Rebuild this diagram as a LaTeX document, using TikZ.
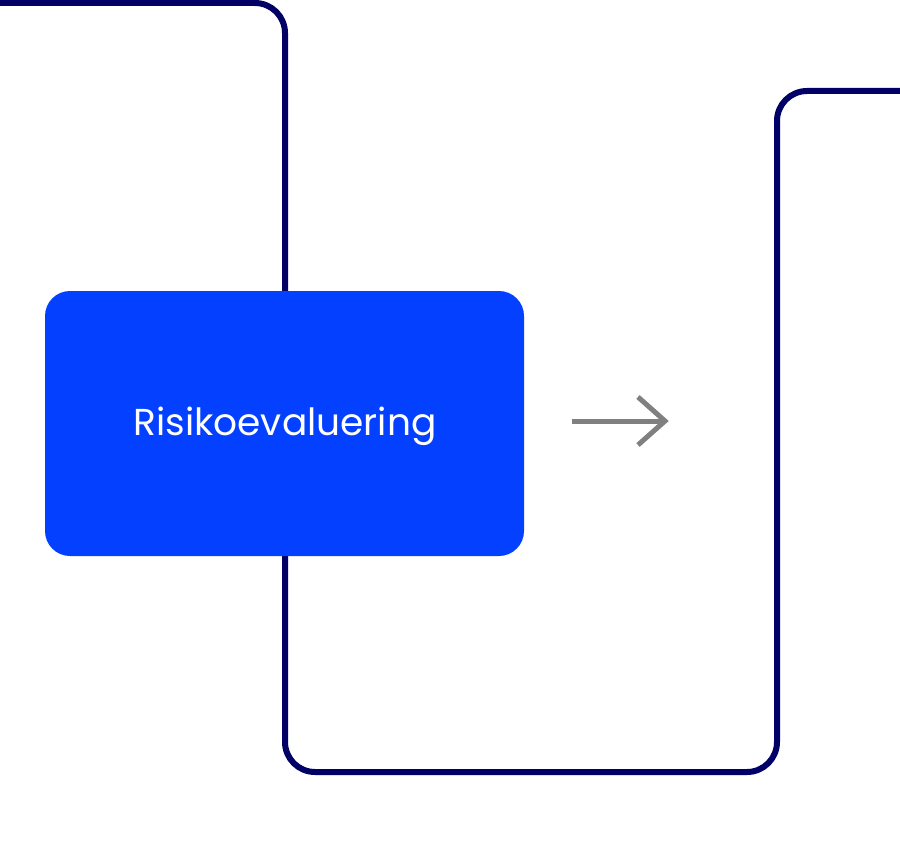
\documentclass[tikz,border=0pt]{standalone}
\usepackage{fontspec}
\setmainfont{Poppins}
\definecolor{navy}{HTML}{000066}
\definecolor{boxblue}{HTML}{0340FF}
\definecolor{arrgray}{HTML}{808080}
\begin{document}
\begin{tikzpicture}[x=1pt,y=-1pt,
  frameline/.style={draw=navy,line width=6pt,rounded corners=30pt},
  bluebox/.style={fill=boxblue,rounded corners=25pt},
  arrowline/.style={draw=arrgray,line width=5pt}]
\useasboundingbox (0,0) rectangle (900,864);
\draw[frameline] (-10,3) -- (285,3) -- (285,772) -- (777,772) -- (777,91) -- (910,91);
\fill[bluebox] (45,291) rectangle (524,556);
\node[anchor=base,text=white,inner sep=0pt,font=\fontsize{37.5}{44}\selectfont] (lbl) at (285,435) {Risikoevaluering};
\coordinate (a0) at (572,421);
\coordinate (a1) at (665,421);
\coordinate (h1) at (638,397);
\coordinate (h2) at (638,445);
\draw[arrowline] (a0) -- (a1);
\draw[arrowline,line join=miter] (h1) -- (a1) -- (h2);
\end{tikzpicture}
\end{document}
